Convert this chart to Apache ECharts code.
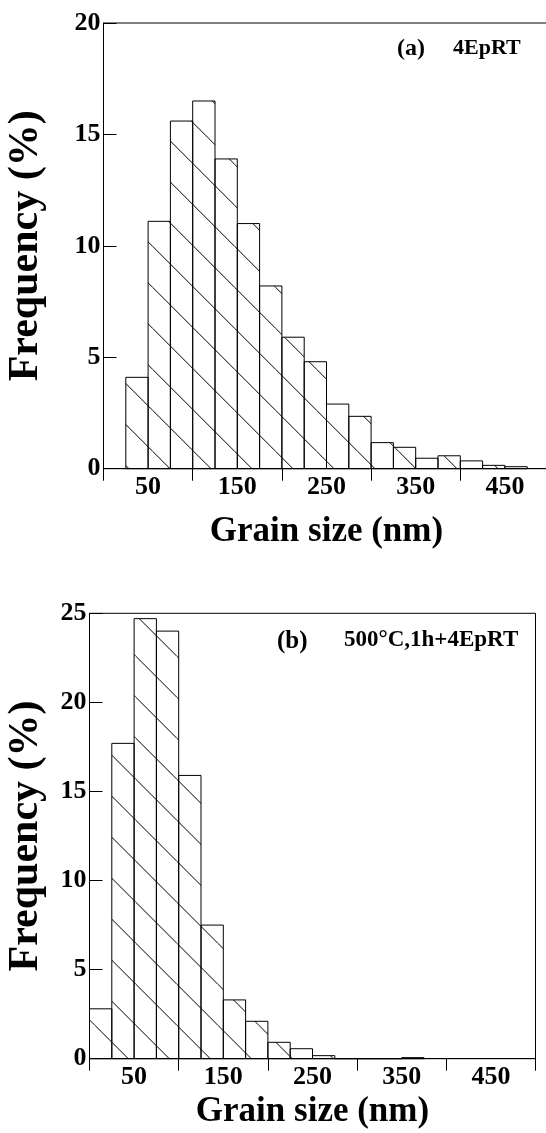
<!DOCTYPE html>
<html>
<head>
<meta charset="utf-8">
<title>Grain size histograms</title>
<script src="https://cdn.jsdelivr.net/npm/echarts@6.0.0/dist/echarts.min.js"></script>
<style>
  html, body { margin: 0; padding: 0; background: #fff; }
  #chart { width: 546px; height: 1133px; }
</style>
</head>
<body>
<div id="chart"></div>
<script>
// bin start (nm) and frequency (%) for each panel, bins are 25 nm wide
var binWidth = 25;
var binStartA = [25, 50, 75, 100, 125, 150, 175, 200, 225, 250, 275, 300, 325, 350, 375, 400, 425, 450];
var freqA = [4.1, 11.1, 15.6, 16.5, 13.9, 11.0, 8.2, 5.9, 4.8, 2.9, 2.35, 1.17, 0.96, 0.47, 0.58, 0.35, 0.15, 0.09];
var binStartB = [0, 25, 50, 75, 100, 125, 150, 175, 200, 225, 250, 275, 300, 325, 350];
var freqB = [2.8, 17.7, 24.7, 24.0, 15.9, 7.5, 3.3, 2.1, 0.92, 0.56, 0.17, 0, 0, 0, 0.06];

var xTicks = [0, 100, 200, 300, 400, 500];
var xLabels = [50, 150, 250, 350, 450];

var serif = '"Liberation Serif", "Times New Roman", serif';

// diagonal hatch tile, lines of x - y = c (mod size)
function makeHatch(c) {
  var size = 41;
  var cv = document.createElement('canvas');
  cv.width = size;
  cv.height = size;
  var ctx = cv.getContext('2d');
  ctx.strokeStyle = '#000';
  ctx.lineWidth = 1;
  ctx.beginPath();
  ctx.moveTo(c, 0); ctx.lineTo(c + size, size);
  ctx.moveTo(c - size, 0); ctx.lineTo(c, size);
  ctx.stroke();
  return { image: cv, repeat: 'repeat' };
}

function toData(starts, vals) {
  return starts.map(function (s, i) { return [s, s + binWidth, vals[i]]; });
}

function histSeries(idx, starts, vals, hatch) {
  return {
    type: 'custom',
    xAxisIndex: idx,
    yAxisIndex: idx,
    data: toData(starts, vals),
    encode: { x: [0, 1], y: 2 },
    renderItem: function (params, api) {
      var p0 = api.coord([api.value(0), api.value(2)]);
      var p1 = api.coord([api.value(1), 0]);
      return {
        type: 'rect',
        shape: { x: p0[0], y: p0[1], width: p1[0] - p0[0], height: p1[1] - p0[1] },
        style: { fill: hatch, stroke: '#000', lineWidth: 1 }
      };
    }
  };
}

function xAxisOpt(idx, gap) {
  return {
    type: 'value', gridIndex: idx, min: 0, max: 500, interval: 100,
    splitLine: { show: false },
    axisLine: { lineStyle: { color: '#000', width: 1 } },
    axisTick: { inside: false, length: 12, customValues: xTicks, lineStyle: { color: '#000' } },
    axisLabel: { customValues: xLabels, margin: 6, color: '#000', fontFamily: serif, fontWeight: 'bold', fontSize: 26 },
    name: 'Grain size (nm)', nameLocation: 'middle', nameGap: gap,
    nameTextStyle: { color: '#000', fontFamily: serif, fontWeight: 'bold', fontSize: 35 }
  };
}

function yAxisOpt(idx, max, gap) {
  return {
    type: 'value', gridIndex: idx, min: 0, max: max, interval: 5,
    splitLine: { show: false },
    axisLine: { show: true, lineStyle: { color: '#000', width: 1 } },
    axisTick: { show: true, inside: true, length: 13, lineStyle: { color: '#000' } },
    axisLabel: { margin: 3, color: '#000', fontFamily: serif, fontWeight: 'bold', fontSize: 26 },
    name: 'Frequency (%)', nameLocation: 'middle', nameGap: gap, nameRotate: 90,
    nameTextStyle: { color: '#000', fontFamily: serif, fontWeight: 'bold', fontSize: 42 }
  };
}

var chart = echarts.init(document.getElementById('chart'));
chart.setOption({
  animation: false,
  backgroundColor: '#fff',
  grid: [
    { left: 103.5, top: 23, width: 446, height: 445.7, show: true, borderColor: '#000', borderWidth: 1, outerBoundsMode: 'none' },
    { left: 89.5, top: 613.3, width: 446, height: 445.4, show: true, borderColor: '#000', borderWidth: 1, outerBoundsMode: 'none' }
  ],
  xAxis: [xAxisOpt(0, 46), xAxisOpt(1, 36)],
  yAxis: [yAxisOpt(0, 20, 56), yAxisOpt(1, 25, 42)],
  series: [
    histSeries(0, binStartA, freqA, makeHatch(29.3)),
    histSeries(1, binStartB, freqB, makeHatch(12.6))
  ],
  graphic: [
    { type: 'text', left: 397, top: 37, style: { text: '(a)', fill: '#000', font: 'bold 24px ' + serif } },
    { type: 'text', left: 453, top: 37, style: { text: '4EpRT', fill: '#000', font: 'bold 22px ' + serif } },
    { type: 'text', left: 277, top: 629, style: { text: '(b)', fill: '#000', font: 'bold 25px ' + serif } },
    { type: 'text', left: 344, top: 629, style: { text: '500°C,1h+4EpRT', fill: '#000', font: 'bold 23px ' + serif } }
  ]
});
</script>
</body>
</html>
